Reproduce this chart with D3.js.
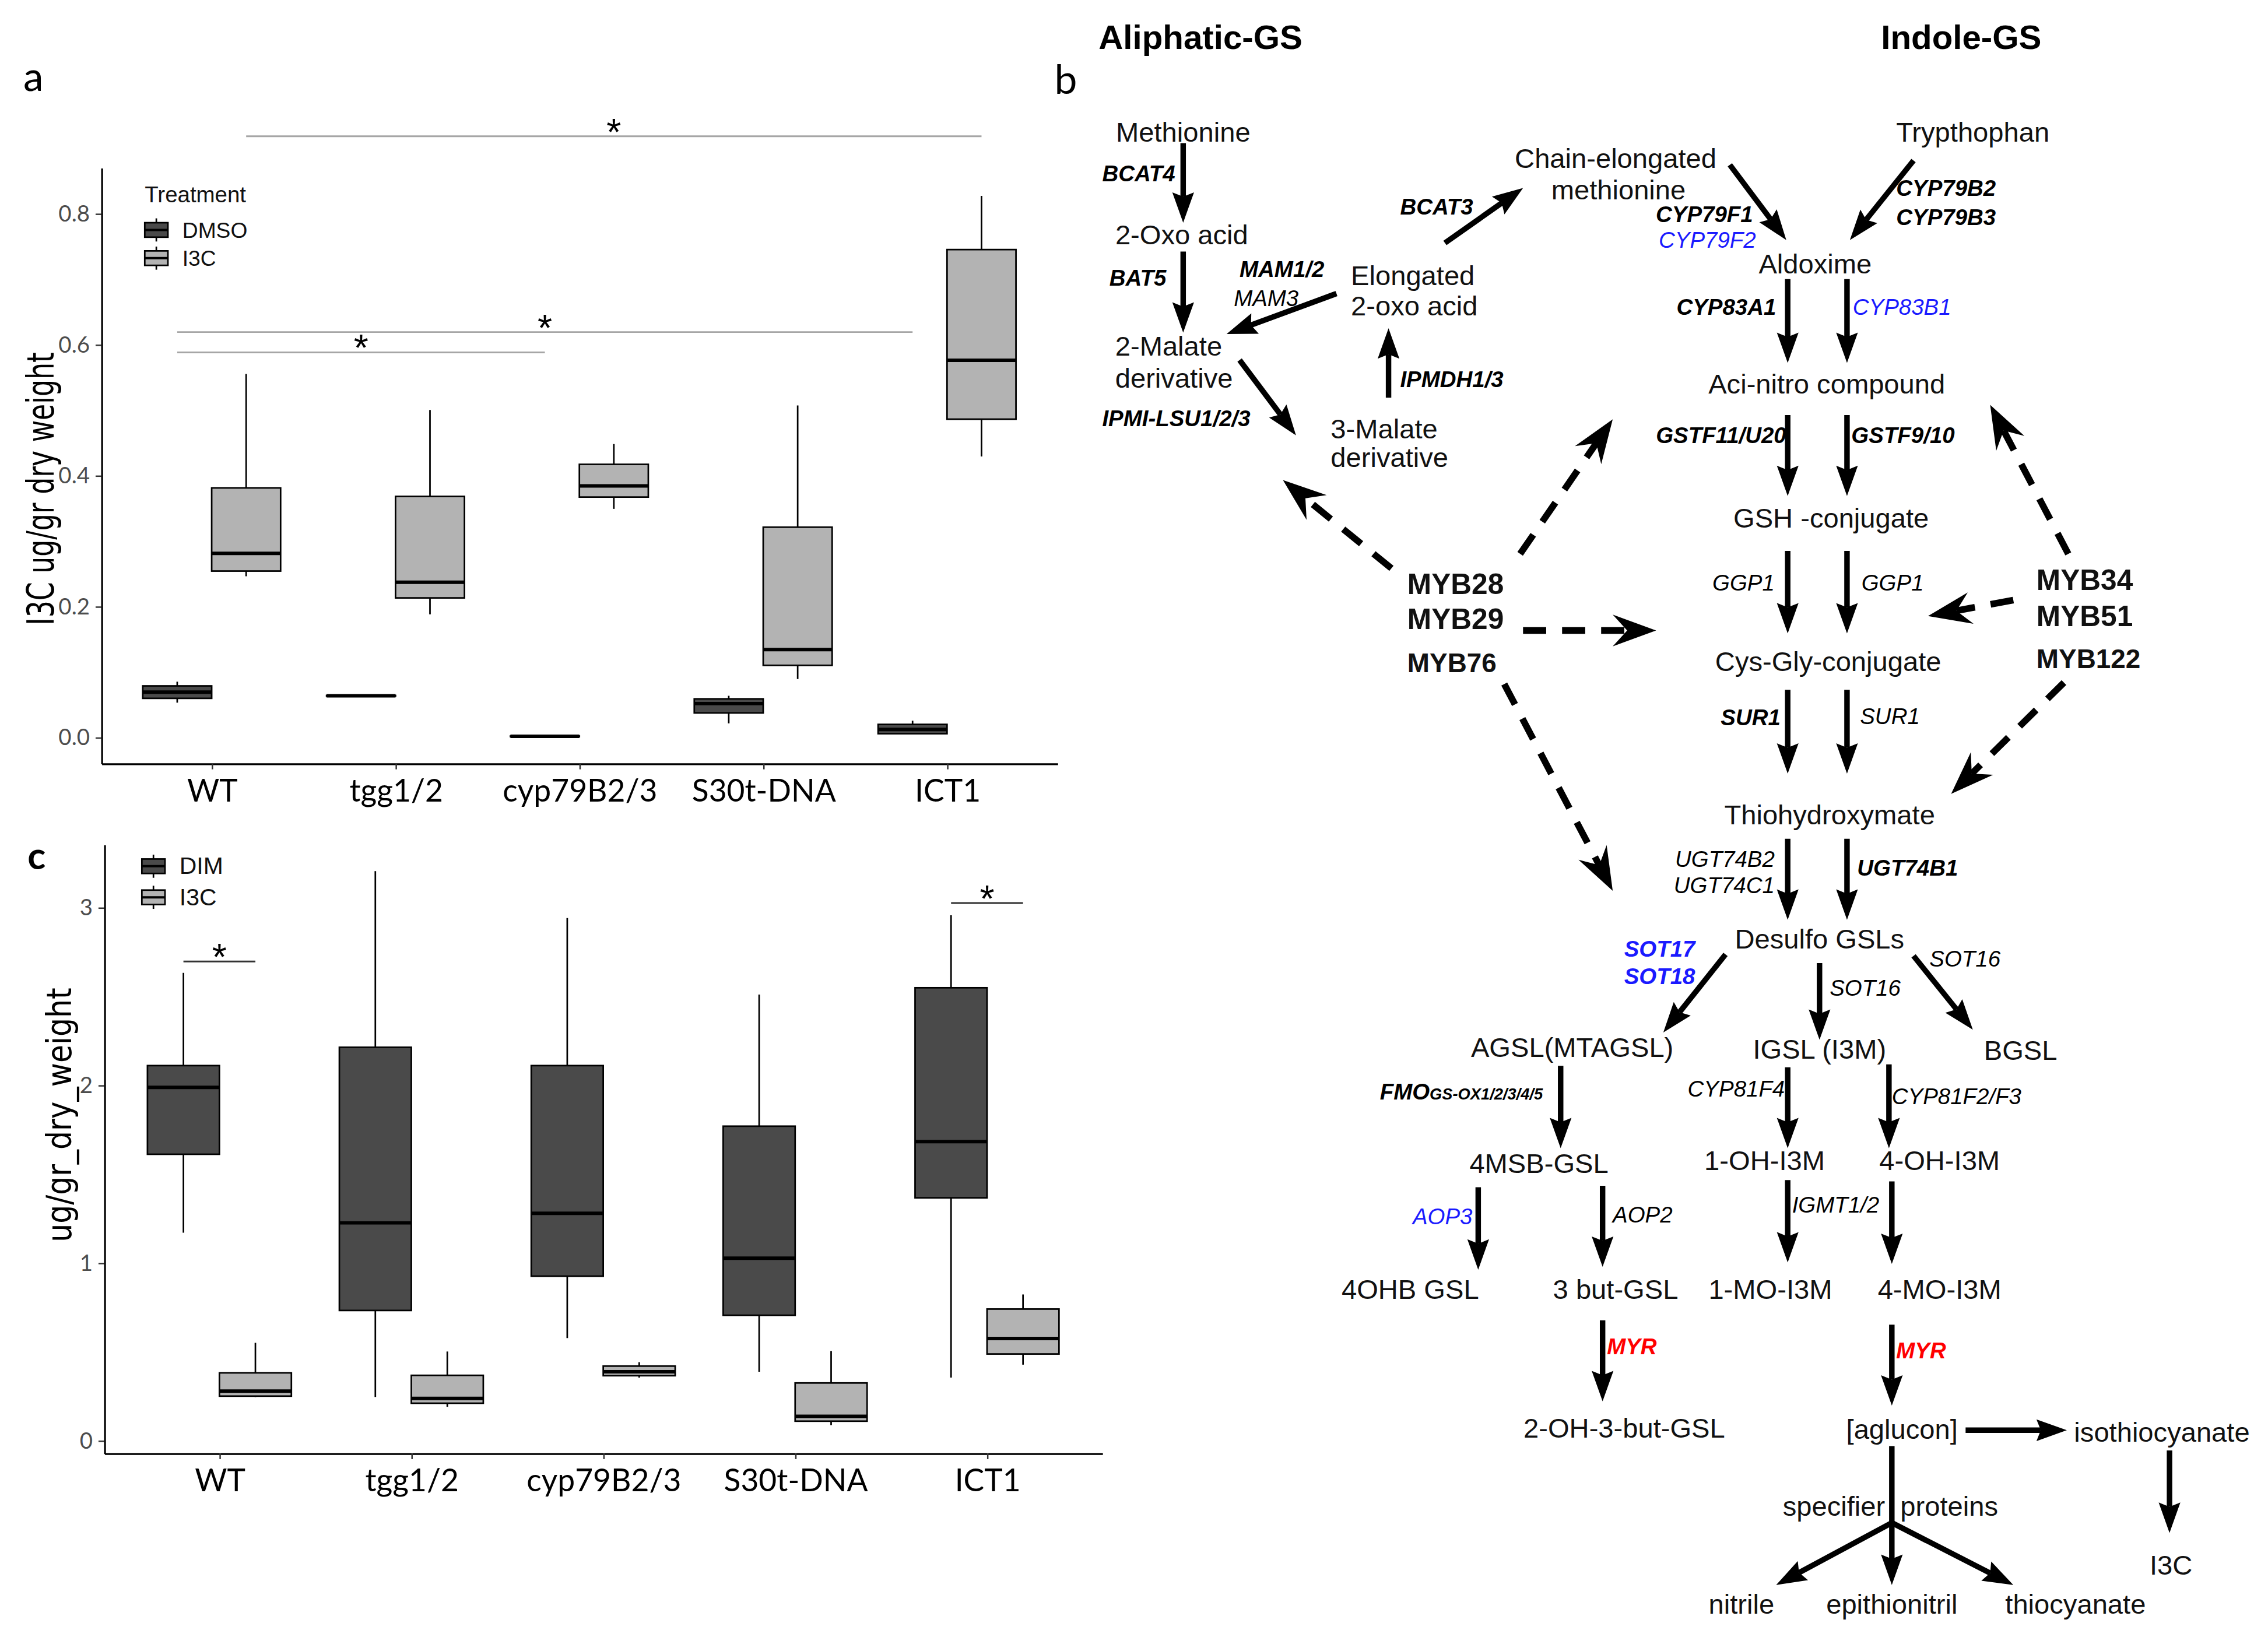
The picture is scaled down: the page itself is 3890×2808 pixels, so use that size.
<!DOCTYPE html>
<html>
<head>
<meta charset="utf-8">
<script src="https://cdn.jsdelivr.net/npm/d3@7"></script>
<style>
  html, body { margin: 0; padding: 0; background: #fff; }
  svg { display: block; }
</style>
</head>
<body>
<script>
// ---- data ----
const genotypes = ["WT", "tgg1/2", "cyp79B2/3", "S30t-DNA", "ICT1"];

// box stats per genotype: [lower whisker, q1, median, q3, upper whisker]
const dmsoA = [
  [0.053, 0.0596, 0.069, 0.0786, 0.085],
  [0.062, 0.063, 0.0635, 0.064, 0.065],
  [0.001, 0.0012, 0.0016, 0.002, 0.0022],
  [0.0214, 0.0373, 0.0516, 0.0588, 0.0635],
  [0.0056, 0.0056, 0.012, 0.0198, 0.0254]
];
const i3cA = [
  [0.246, 0.254, 0.281, 0.381, 0.555],
  [0.188, 0.213, 0.237, 0.368, 0.500],
  [0.349, 0.367, 0.384, 0.417, 0.448],
  [0.089, 0.110, 0.134, 0.321, 0.507],
  [0.429, 0.486, 0.576, 0.745, 0.827]
];
const dimC = [
  [1.170, 1.611, 1.987, 2.110, 2.632],
  [0.245, 0.732, 1.225, 2.213, 3.204],
  [0.577, 0.925, 1.279, 2.110, 2.940],
  [0.387, 0.705, 1.026, 1.769, 2.510],
  [0.354, 1.366, 1.682, 2.548, 2.956]
];
const i3cC = [
  [0.245, 0.250, 0.278, 0.381, 0.550],
  [0.190, 0.210, 0.237, 0.367, 0.501],
  [0.354, 0.365, 0.387, 0.419, 0.441],
  [0.087, 0.109, 0.136, 0.324, 0.504],
  [0.427, 0.487, 0.574, 0.740, 0.822]
];
const yTicksA = [0, 0.2, 0.4, 0.6, 0.8];
const yTicksC = [0, 1, 2, 3];

// significance brackets (series index 0 = dark, 1 = light)
const sigA = [
  {from: "WT", fs: 1, to: "ICT1", ts: 1, y: 0.918},
  {from: "WT", fs: 0, to: "ICT1", ts: 0, y: 0.619},
  {from: "WT", fs: 0, to: "cyp79B2/3", ts: 0, y: 0.588}
];
const sigC = [
  {from: "WT", fs: 0, to: "WT", ts: 1, y: 2.696},
  {from: "ICT1", fs: 0, to: "ICT1", ts: 1, y: 3.025}
];

// ---- pathway diagram (b) layout ----
const compounds = [
  ["Methionine", 818, 91, "middle"], ["2-Oxo acid", 817, 162, "middle"],
  ["2-Malate", 771, 239, "start"], ["derivative", 771, 261, "start"],
  ["Elongated", 934, 190, "start"], ["2-oxo acid", 934, 211, "start"],
  ["3-Malate", 920, 296, "start"], ["derivative", 920, 316, "start"],
  ["Chain-elongated", 1117, 109, "middle"], ["methionine", 1119, 131, "middle"],
  ["Trypthophan", 1364, 91, "middle"], ["Aldoxime", 1255, 182, "middle"],
  ["Aci-nitro compound", 1263, 265, "middle"], ["GSH -conjugate", 1266, 358, "middle"],
  ["Cys-Gly-conjugate", 1264, 457, "middle"], ["Thiohydroxymate", 1265, 563, "middle"],
  ["Desulfo GSLs", 1258, 649, "middle"],
  ["AGSL(MTAGSL)", 1087, 724, "middle"], ["IGSL (I3M)", 1258, 725, "middle"], ["BGSL", 1397, 726, "middle"],
  ["4MSB-GSL", 1064, 804, "middle"], ["1-OH-I3M", 1220, 802, "middle"], ["4-OH-I3M", 1341, 802, "middle"],
  ["4OHB GSL", 975, 891, "middle"], ["3 but-GSL", 1117, 891, "middle"],
  ["1-MO-I3M", 1224, 891, "middle"], ["4-MO-I3M", 1341, 891, "middle"],
  ["2-OH-3-but-GSL", 1123, 987, "middle"], ["[aglucon]", 1315, 988, "middle"],
  ["isothiocyanate", 1434, 990, "start"], ["I3C", 1501, 1082, "middle"],
  ["specifier  proteins", 1307, 1041, "middle"],
  ["nitrile", 1204, 1109, "middle"], ["epithionitril", 1308, 1109, "middle"], ["thiocyanate", 1435, 1109, "middle"]
];
// [name, x, y, anchor, bold, colour]
const enzymes = [
  ["BCAT4", 762, 120, "start", 1, "#000"], ["BAT5", 767, 192, "start", 1, "#000"],
  ["MAM1/2", 857, 186, "start", 1, "#000"], ["MAM3", 853, 206, "start", 0, "#000"],
  ["BCAT3", 968, 143, "start", 1, "#000"], ["IPMDH1/3", 968, 262, "start", 1, "#000"],
  ["IPMI-LSU1/2/3", 762, 289, "start", 1, "#000"],
  ["CYP79F1", 1212, 148, "end", 1, "#000"], ["CYP79F2", 1214, 166, "end", 0, "#1a1aff"],
  ["CYP79B2", 1311, 130, "start", 1, "#000"], ["CYP79B3", 1311, 150, "start", 1, "#000"],
  ["CYP83A1", 1228, 212, "end", 1, "#000"], ["CYP83B1", 1281, 212, "start", 0, "#1a1aff"],
  ["GSTF11/U20", 1235, 301, "end", 1, "#000"], ["GSTF9/10", 1280, 301, "start", 1, "#000"],
  ["GGP1", 1227, 403, "end", 0, "#000"], ["GGP1", 1287, 403, "start", 0, "#000"],
  ["SUR1", 1231, 496, "end", 1, "#000"], ["SUR1", 1286, 495, "start", 0, "#000"],
  ["UGT74B2", 1227, 594, "end", 0, "#000"], ["UGT74C1", 1227, 612, "end", 0, "#000"],
  ["UGT74B1", 1284, 600, "start", 1, "#000"],
  ["SOT17", 1172, 656, "end", 1, "#1a1aff"], ["SOT18", 1172, 675, "end", 1, "#1a1aff"],
  ["SOT16", 1334, 663, "start", 0, "#000"], ["SOT16", 1265, 683, "start", 0, "#000"],
  ["CYP81F4", 1234, 753, "end", 0, "#000"], ["CYP81F2/F3", 1308, 758, "start", 0, "#000"],
  ["AOP3", 1018, 841, "end", 0, "#1a1aff"], ["AOP2", 1115, 840, "start", 0, "#000"],
  ["IGMT1/2", 1239, 833, "start", 0, "#000"],
  ["MYR", 1111, 931, "start", 1, "#ff0000"], ["MYR", 1311, 934, "start", 1, "#ff0000"]
];
// [name, x, y, size]
const regulators = [
  ["MYB28", 973, 404, 20], ["MYB29", 973, 428, 20], ["MYB76", 973, 458, 18.5],
  ["MYB34", 1408, 401, 20], ["MYB51", 1408, 426, 20], ["MYB122", 1408, 455, 18.5]
];
// reaction arrows [x1, y1, x2, y2]
const steps = [
  [818, 99, 818, 154], [818, 174, 818, 230], [924, 203, 848, 231], [857, 249, 896, 301],
  [960, 275, 960, 227], [999, 168, 1053, 130], [1196, 114, 1235, 166], [1323, 111, 1279, 166],
  [1236, 193, 1236, 251], [1277, 193, 1277, 251], [1236, 287, 1236, 343], [1277, 287, 1277, 343],
  [1236, 381, 1236, 438], [1277, 381, 1277, 438], [1236, 477, 1236, 535], [1277, 477, 1277, 535],
  [1236, 580, 1236, 636], [1277, 580, 1277, 636],
  [1193, 660, 1150, 714], [1258, 666, 1258, 719], [1323, 661, 1364, 712],
  [1079, 737, 1079, 794], [1236, 738, 1236, 794], [1306, 736, 1306, 794],
  [1022, 821, 1022, 878], [1108, 820, 1108, 876], [1236, 816, 1236, 873], [1308, 817, 1308, 874],
  [1108, 913, 1108, 969], [1308, 916, 1308, 972], [1359, 989, 1429, 989], [1500, 1003, 1500, 1060],
  [1308, 1053, 1228, 1096], [1308, 1053, 1308, 1096], [1308, 1053, 1392, 1096]
];
const stems = [[1308, 1000, 1308, 1053]];
const regulation = [
  [962, 393, 887, 332], [1051, 383, 1115, 290], [1430, 383, 1376, 280], [1053, 436, 1145, 436],
  [1392, 415, 1333, 426], [1427, 472, 1349, 549], [1040, 473, 1115, 616]
];

// ---- drawing ----
const svg = d3.select("body").append("svg")
  .attr("width", 3890).attr("height", 2808)
  .attr("viewBox", "0 0 1568 1132");
svg.append("rect").attr("width", 1568).attr("height", 1132).attr("fill", "#fff");

const darkFill = "#4a4a4a", lightFill = "#b3b3b3";

function boxPanel(cfg) {
  const g = svg.append("g");
  const x = d3.scalePoint().domain(genotypes).range([cfg.left, cfg.right]).padding(0.6);
  const y = d3.scaleLinear().domain(cfg.yDomain).range([cfg.bottom, cfg.top]);
  const bw = x.step() * 0.375;
  const xs = (gname, s) => x(gname) + (s === 0 ? -bw / 2 : bw / 2);

  cfg.series.forEach((ser, si) => {
    const b = g.append("g").selectAll("g")
      .data(ser.values.map((v, i) => ({g: genotypes[i], v})))
      .join("g")
      .attr("transform", d => `translate(${xs(d.g, si)},0)`);
    b.append("line")
      .attr("y1", d => y(d.v[0])).attr("y2", d => y(d.v[4]))
      .attr("stroke", "#000").attr("stroke-width", 1.1);
    b.append("rect")
      .attr("x", -bw / 2).attr("width", bw)
      .attr("y", d => y(d.v[3])).attr("height", d => y(d.v[1]) - y(d.v[3]))
      .attr("fill", ser.fill).attr("stroke", "#000").attr("stroke-width", 1.1);
    b.append("line")
      .attr("x1", -bw / 2).attr("x2", bw / 2)
      .attr("y1", d => y(d.v[2])).attr("y2", d => y(d.v[2]))
      .attr("stroke", "#000").attr("stroke-width", 2.4);
  });

  // y axis
  const ya = g.append("g").attr("transform", `translate(${cfg.left},0)`)
    .call(d3.axisLeft(y).tickValues(cfg.ticks).tickFormat(cfg.fmt).tickSize(4).tickPadding(4).tickSizeOuter(0));
  ya.attr("font-family", null).attr("font-size", null);
  ya.select(".domain").attr("stroke", "#000").attr("stroke-width", 1.3);
  ya.selectAll(".tick line").attr("stroke", "#333");
  ya.selectAll(".tick text").attr("font-family", "Lato").attr("font-size", 15.5).attr("fill", "#4d4d4d");

  // x axis
  const xa = g.append("g").attr("transform", `translate(0,${cfg.bottom})`)
    .call(d3.axisBottom(x).tickSize(4).tickPadding(7).tickSizeOuter(0));
  xa.attr("font-family", null).attr("font-size", null);
  xa.select(".domain").attr("stroke", "#000").attr("stroke-width", 1.3);
  xa.selectAll(".tick line").attr("stroke", "#333");
  xa.selectAll(".tick text").attr("font-family", "Lato").attr("font-size", 21.5).attr("fill", "#000");

  // significance
  cfg.sig.forEach(s => {
    const x1 = xs(s.from, s.fs), x2 = xs(s.to, s.ts), yy = y(s.y);
    g.append("line").attr("x1", x1).attr("x2", x2).attr("y1", yy).attr("y2", yy)
      .attr("stroke", cfg.sigColor).attr("stroke-width", 1.2);
    g.append("text").attr("x", (x1 + x2) / 2).attr("y", yy + 6)
      .attr("text-anchor", "middle").attr("font-family", "Liberation Sans")
      .attr("font-size", 26).text("*");
  });

  // y title
  g.append("text")
    .attr("transform", `translate(${cfg.titleX},${cfg.titleY}) rotate(-90)`)
    .attr("text-anchor", "middle").attr("font-family", "DejaVu Sans")
    .attr("font-size", cfg.titleSize).attr("textLength", cfg.titleLen).attr("lengthAdjust", "spacingAndGlyphs")
    .text(cfg.title);

  // legend
  const lg = g.append("g").attr("font-family", "Liberation Sans").attr("fill", "#111");
  if (cfg.legendTitle) {
    lg.append("text").attr("x", cfg.legX).attr("y", cfg.legY - 19).attr("font-size", 15.5).text(cfg.legendTitle);
  }
  cfg.series.forEach((ser, i) => {
    const cy = cfg.legY + i * cfg.legStep;
    const kx = cfg.legX, kw = 16;
    lg.append("line").attr("x1", kx + kw / 2).attr("x2", kx + kw / 2)
      .attr("y1", cy - 8).attr("y2", cy + 8).attr("stroke", "#000").attr("stroke-width", 1.1);
    lg.append("rect").attr("x", kx).attr("y", cy - 5).attr("width", kw).attr("height", 10)
      .attr("fill", ser.fill).attr("stroke", "#000").attr("stroke-width", 1.1);
    lg.append("line").attr("x1", kx).attr("x2", kx + kw).attr("y1", cy).attr("y2", cy)
      .attr("stroke", "#000").attr("stroke-width", 1.6);
    lg.append("text").attr("x", kx + 26).attr("y", cy + 5.5).attr("font-size", cfg.legFont).text(ser.name);
  });
}

boxPanel({
  left: 70, right: 731, top: 116, bottom: 528, yDomain: [-0.04, 0.87],
  ticks: yTicksA, fmt: d3.format(".1f"),
  series: [{name: "DMSO", values: dmsoA, fill: darkFill}, {name: "I3C", values: i3cA, fill: lightFill}],
  sig: sigA, sigColor: "#a6a6a6",
  title: "I3C ug/gr dry weight", titleX: 37, titleY: 338, titleLen: 189, titleSize: 26,
  legendTitle: "Treatment", legX: 100, legY: 159, legStep: 19.5, legFont: 15
});

boxPanel({
  left: 72, right: 762, top: 584, bottom: 1005, yDomain: [-0.072, 3.354],
  ticks: yTicksC, fmt: d3.format("d"),
  series: [{name: "DIM", values: dimC, fill: darkFill}, {name: "I3C", values: i3cC, fill: lightFill}],
  sig: sigC, sigColor: "#333",
  title: "ug/gr_dry_weight", titleX: 49, titleY: 771, titleLen: 176, titleSize: 23.5,
  legendTitle: null, legX: 98, legY: 599, legStep: 21.5, legFont: 16.5
});

// panel letters
svg.append("text").attr("x", 16).attr("y", 63).attr("font-family", "Lato").attr("font-size", 28).text("a");
svg.append("text").attr("x", 729).attr("y", 65).attr("font-family", "Lato").attr("font-size", 28).text("b");
svg.append("text").attr("x", 19).attr("y", 601).attr("font-family", "Lato").attr("font-weight", "bold").attr("font-size", 26).text("c");

// pathway
const pb = svg.append("g");
pb.append("text").attr("x", 830).attr("y", 34).attr("text-anchor", "middle")
  .attr("font-family", "Liberation Sans").attr("font-weight", "bold").attr("font-size", 23.5).text("Aliphatic-GS");
pb.append("text").attr("x", 1356).attr("y", 34).attr("text-anchor", "middle")
  .attr("font-family", "Liberation Sans").attr("font-weight", "bold").attr("font-size", 23.5).text("Indole-GS");

function arrowHead(x1, y1, x2, y2, L, W, notch) {
  const len = Math.hypot(x2 - x1, y2 - y1), ux = (x2 - x1) / len, uy = (y2 - y1) / len;
  const bx = x2 - ux * L, by = y2 - uy * L;
  return {
    base: [bx + ux * notch, by + uy * notch],
    d: `M${x2},${y2}L${bx - uy * W},${by + ux * W}L${bx + ux * notch},${by + uy * notch}L${bx + uy * W},${by - ux * W}Z`
  };
}

pb.append("g").selectAll("line").data(stems).join("line")
  .attr("x1", d => d[0]).attr("y1", d => d[1]).attr("x2", d => d[2]).attr("y2", d => d[3])
  .attr("stroke", "#000").attr("stroke-width", 3.8);

const st = pb.append("g").selectAll("g").data(steps).join("g");
st.append("line")
  .attr("x1", d => d[0]).attr("y1", d => d[1])
  .attr("x2", d => arrowHead(...d, 21, 7.5, 3).base[0])
  .attr("y2", d => arrowHead(...d, 21, 7.5, 3).base[1])
  .attr("stroke", "#000").attr("stroke-width", 3.8);
st.append("path").attr("d", d => arrowHead(...d, 21, 7.5, 3).d).attr("fill", "#000");

const rg = pb.append("g").selectAll("g").data(regulation).join("g");
rg.append("line")
  .attr("x1", d => d[0]).attr("y1", d => d[1])
  .attr("x2", d => arrowHead(...d, 30, 11, 10).base[0])
  .attr("y2", d => arrowHead(...d, 30, 11, 10).base[1])
  .attr("stroke", "#000").attr("stroke-width", 4.6).attr("stroke-dasharray", "16 11");
rg.append("path").attr("d", d => arrowHead(...d, 30, 11, 10).d).attr("fill", "#000");

pb.append("g").selectAll("text").data(compounds).join("text")
  .attr("x", d => d[1]).attr("y", d => d[2] + 7).attr("text-anchor", d => d[3])
  .attr("font-family", "Liberation Sans").attr("font-size", 19).attr("fill", "#111")
  .attr("xml:space", "preserve").style("white-space", "pre")
  .text(d => d[0]);

pb.append("g").selectAll("text").data(enzymes).join("text")
  .attr("x", d => d[1]).attr("y", d => d[2] + 5.5).attr("text-anchor", d => d[3])
  .attr("font-family", "Liberation Sans").attr("font-style", "italic")
  .attr("font-weight", d => d[4] ? "bold" : "normal")
  .attr("font-size", 15.5).attr("fill", d => d[5])
  .text(d => d[0]);

const fmo = pb.append("text").attr("x", 954).attr("y", 760.5)
  .attr("font-family", "Liberation Sans").attr("font-style", "italic").attr("font-weight", "bold");
fmo.append("tspan").attr("font-size", 15.5).text("FMO");
fmo.append("tspan").attr("font-size", 11).text("GS-OX1/2/3/4/5");

pb.append("g").selectAll("text").data(regulators).join("text")
  .attr("x", d => d[1]).attr("y", d => d[2] + 7).attr("font-size", d => d[3])
  .attr("font-family", "Liberation Sans").attr("font-weight", "bold").attr("fill", "#111")
  .text(d => d[0]);
</script>
